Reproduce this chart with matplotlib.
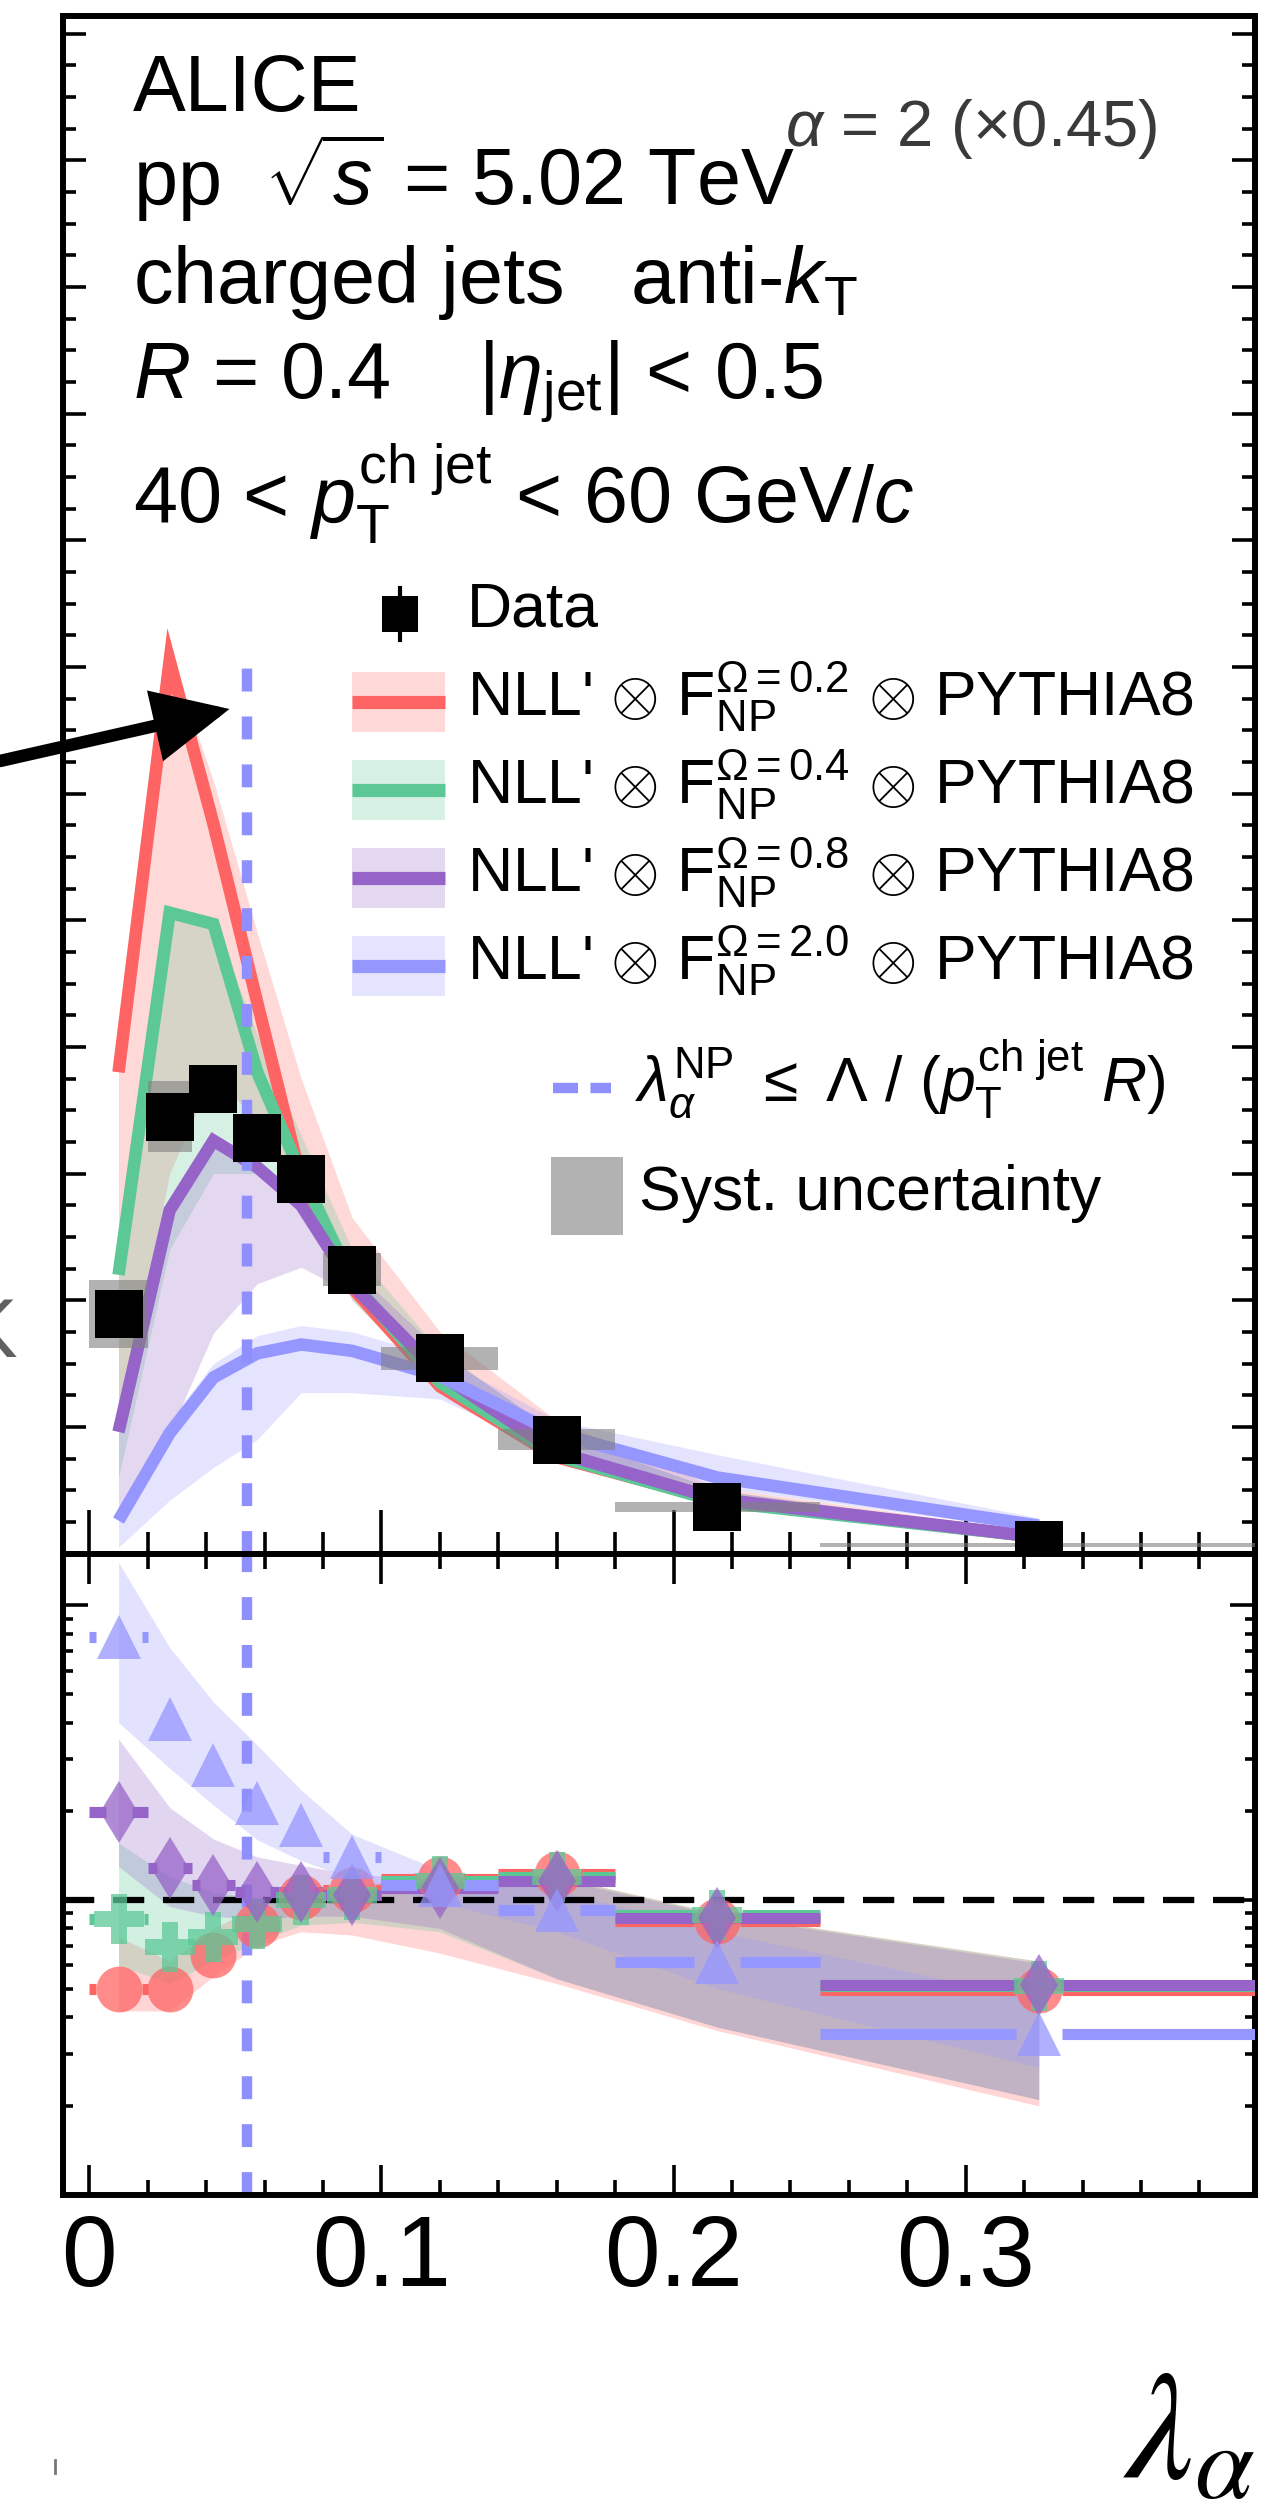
import numpy as np
import matplotlib
matplotlib.use("Agg")
import matplotlib.pyplot as plt
from matplotlib.patches import Rectangle, FancyArrowPatch
from matplotlib.lines import Line2D
from matplotlib.ticker import MultipleLocator, LogLocator, NullFormatter, FuncFormatter

plt.rcParams["font.family"] = ["Liberation Sans", "DejaVu Sans"]
plt.rcParams["mathtext.fontset"] = "custom"
plt.rcParams["mathtext.rm"] = "Liberation Sans"
plt.rcParams["mathtext.it"] = "Liberation Sans:italic"
plt.rcParams["mathtext.bf"] = "Liberation Sans:bold"

W, H = 1281, 2520

# lambda_alpha bins
bin_lo = np.array([0.0, 0.02, 0.035, 0.05, 0.065, 0.08, 0.10, 0.14, 0.18, 0.25])
bin_hi = np.array([0.02, 0.035, 0.05, 0.065, 0.08, 0.10, 0.14, 0.18, 0.25, 0.40])
lam = (bin_lo + bin_hi) / 2
lam_np = 0.054

# upper panel (in units of the major y tick)
data_y = np.array([1.89, 3.45, 3.67, 3.28, 2.96, 2.24, 1.54, 0.90, 0.37, 0.07])
data_sys = np.array([0.27, 0.28, 0.16, 0.12, 0.12, 0.13, 0.09, 0.08, 0.04, 0.015])

nll_red = np.array([3.80, 7.05, 5.76, 4.35, 2.95, 2.10, 1.32, 0.76, 0.42, 0.13])
nll_green = np.array([2.20, 5.06, 4.97, 3.80, 3.00, 2.15, 1.35, 0.77, 0.41, 0.13])
nll_purple = np.array([0.96, 2.71, 3.26, 3.05, 2.75, 2.12, 1.42, 0.80, 0.43, 0.13])
nll_blue = np.array([0.26, 0.95, 1.39, 1.58, 1.65, 1.60, 1.40, 0.95, 0.60, 0.22])

red_lo = [1.00, 3.00, 3.80, 3.40, 2.75, 2.00, 1.30, 0.76, 0.40, 0.12]
red_hi = [3.85, 7.10, 6.10, 4.90, 3.75, 2.65, 1.75, 1.05, 0.52, 0.17]
green_lo = [0.60, 2.40, 3.00, 3.00, 2.70, 2.00, 1.30, 0.76, 0.40, 0.12]
green_hi = [2.25, 5.10, 5.00, 4.10, 3.30, 2.40, 1.60, 0.95, 0.50, 0.16]
purple_lo = [0.30, 0.95, 1.74, 2.13, 2.26, 2.05, 1.30, 0.76, 0.40, 0.12]
purple_hi = [1.00, 2.75, 3.30, 3.10, 2.80, 2.25, 1.60, 0.95, 0.50, 0.16]
blue_lo = [0.05, 0.42, 0.68, 0.90, 1.27, 1.27, 1.22, 0.80, 0.52, 0.18]
blue_hi = [0.35, 1.05, 1.50, 1.72, 1.80, 1.75, 1.55, 1.05, 0.78, 0.28]

# lower panel: data / model
r_red = [0.50, 0.50, 0.65, 0.82, 1.02, 1.08, 1.18, 1.22, 0.85, 0.495]
r_green = [0.86, 0.69, 0.75, 0.83, 1.00, 1.04, 1.16, 1.20, 0.89, 0.51]
r_purple = [1.99, 1.28, 1.12, 1.06, 1.06, 1.04, 1.10, 1.16, 0.87, 0.515]
r_blue = [7.79, 4.12, 2.87, 2.13, 1.79, 1.40, 1.12, 0.925, 0.616, 0.352]

r_red_lo = [0.42, 0.42, 0.55, 0.70, 0.78, 0.76, 0.66, 0.52, 0.36, 0.20]
r_red_hi = [0.75, 0.62, 0.80, 0.95, 1.08, 1.12, 1.20, 1.20, 0.90, 0.62]
r_green_lo = [0.60, 0.52, 0.62, 0.72, 0.82, 0.84, 0.78, 0.54, 0.37, 0.21]
r_green_hi = [1.56, 1.20, 1.06, 1.02, 1.04, 1.08, 1.18, 1.20, 0.90, 0.62]
r_purple_lo = [1.30, 0.95, 0.88, 0.86, 0.88, 0.88, 0.80, 0.54, 0.37, 0.21]
r_purple_hi = [3.52, 2.06, 1.61, 1.40, 1.31, 1.22, 1.18, 1.18, 0.89, 0.61]
r_blue_lo = [4.00, 2.80, 2.10, 1.60, 1.36, 1.18, 0.98, 0.78, 0.50, 0.27]
r_blue_hi = [14.0, 7.20, 4.70, 3.35, 2.36, 1.67, 1.26, 1.08, 0.78, 0.46]

omegas = ["0.2", "0.4", "0.8", "2.0"]
c_red, c_green, c_purple, c_blue = "#ff6464", "#5cc896", "#9664c8", "#9696ff"
c_dash = "#8f8fff"

models = [
    # colour, line, band lo, band hi, ratio, ratio lo, ratio hi, marker, size(pt), half width(px)
    (c_red, nll_red, red_lo, red_hi, r_red, r_red_lo, r_red_hi, "o", 33, 23),
    (c_green, nll_green, green_lo, green_hi, r_green, r_green_lo, r_green_hi, "P", 36, 25),
    (c_purple, nll_purple, purple_lo, purple_hi, r_purple, r_purple_lo, r_purple_hi, "d", 32, 13),
    (c_blue, nll_blue, blue_lo, blue_hi, r_blue, r_blue_lo, r_blue_hi, "^", 32, 23),
]


def fx(px):
    return px / W


def fy(py):
    return 1 - py / H


fig = plt.figure(figsize=(W / 100, H / 100), dpi=100)

x0, x1 = 63, 1255
y_top, y_mid, y_bot = 16, 1553.5, 2194.5
ax = fig.add_axes([fx(x0), fy(y_mid), fx(x1) - fx(x0), fy(y_top) - fy(y_mid)])
axr = fig.add_axes([fx(x0), fy(y_bot), fx(x1) - fx(x0), fy(y_mid) - fy(y_bot)])

xmin, xmax = -0.009, 0.399
px_per_unit = (x1 - x0) / (xmax - xmin)

# ---- upper panel ----
for col, line, lo, hi, *_ in models:
    ax.fill_between(lam, lo, hi, color=col, alpha=0.25, lw=0, zorder=1)
for col, line, *_ in models:
    ax.plot(lam, line, color=col, lw=9, solid_joinstyle="miter",
            solid_capstyle="butt", zorder=2)
ax.vlines(lam_np, 0, nll_red.max(), colors=c_dash, lw=7.5,
          linestyles=[(0, (2.2, 2.4))], zorder=3)
ax.bar(bin_lo, 2 * data_sys, bottom=data_y - data_sys, width=bin_hi - bin_lo,
       align="edge", color="grey", alpha=0.6, lw=0, zorder=4)
ax.plot(lam, data_y, "s", ms=34, mew=0, color="k", zorder=5)

ax.set_xlim(xmin, xmax)
ax.set_ylim(0, 12.14)
ax.xaxis.set_major_locator(MultipleLocator(0.1))
ax.xaxis.set_minor_locator(MultipleLocator(0.02))
ax.yaxis.set_major_locator(MultipleLocator(1))
ax.yaxis.set_minor_locator(MultipleLocator(0.25))
ax.tick_params(which="both", direction="in", top=False, right=True,
               labelbottom=False, labelleft=False, width=2.6)
ax.tick_params(axis="x", which="major", length=32)
ax.tick_params(axis="x", which="minor", length=16)
ax.tick_params(axis="y", which="major", length=16.5)
ax.tick_params(axis="y", which="minor", length=9.5)

# ---- ratio panel ----
for col, line, lo, hi, r, rlo, rhi, *_ in models:
    axr.fill_between(lam, rlo, rhi, color=col, alpha=0.27, lw=0, zorder=1)
axr.axhline(1, color="k", lw=4.5, ls=(0, (5, 3)), zorder=2)
axr.axvline(lam_np, color=c_dash, lw=7.5, ls=(0, (2.2, 2.4)), zorder=2)
for col, line, lo, hi, r, rlo, rhi, mk, ms, hw in models:
    r = np.array(r)
    gap = hw / px_per_unit
    keep = (lam - gap) > bin_lo
    axr.hlines(r[keep], bin_lo[keep], lam[keep] - gap, colors=col, lw=8, zorder=3)
    axr.hlines(r[keep], lam[keep] + gap, bin_hi[keep], colors=col, lw=8, zorder=3)
    axr.plot(lam, r, mk, ms=ms, mew=0, color=col, alpha=0.75, zorder=4)

axr.set_yscale("log")
axr.set_xlim(xmin, xmax)
axr.set_ylim(0.1, 15)
axr.xaxis.set_major_locator(MultipleLocator(0.1))
axr.xaxis.set_minor_locator(MultipleLocator(0.02))
axr.yaxis.set_major_locator(LogLocator(base=10, numticks=10))
axr.yaxis.set_minor_locator(LogLocator(base=10, subs=np.arange(2, 10), numticks=20))
axr.yaxis.set_minor_formatter(NullFormatter())
axr.tick_params(which="both", direction="in", top=True, right=True,
                labelleft=False, width=2.6)
axr.tick_params(axis="x", which="major", length=21.5, labelsize=72, pad=13)
axr.tick_params(axis="x", which="minor", length=11)
axr.tick_params(axis="y", which="major", length=18)
axr.tick_params(axis="y", which="minor", length=7.5)
axr.xaxis.set_major_formatter(FuncFormatter(lambda v, p: "0" if abs(v) < 1e-9 else f"{v:g}"))

for a in (ax, axr):
    for s in a.spines.values():
        s.set_linewidth(4.3)

# ---- header text ----
hdr = ["ALICE",
       r"pp  $\sqrt{s}$ = 5.02 TeV",
       r"charged jets   anti-$k_{\mathrm{T}}$",
       r"$R$ = 0.4    |$\eta_{\mathrm{jet}}$| < 0.5",
       r"40 < $p_{\mathrm{T}}^{\mathrm{ch\ jet}}$ < 60 GeV/$c$"]
hdr_base = [111, 205, 303, 398.5, 523]
for s, yb in zip(hdr, hdr_base):
    fig.text(fx(133), fy(yb), s, fontsize=57, ha="left", va="baseline")
fig.text(fx(785), fy(146), r"$\alpha$ = 2 (×0.45)", fontsize=47,
         ha="left", va="baseline", color="#3a3a3a")

# ---- legend ----
fig.add_artist(Line2D([fx(399.5)] * 2, [fy(588), fy(640)], color="k", lw=3))
fig.add_artist(Line2D([fx(399.5)], [fy(614)], marker="s", ms=26, mew=0, color="k"))
fig.text(fx(467), fy(626.6), "Data", fontsize=45, ha="left", va="baseline")
for i, (col, *_ ) in enumerate(models):
    yc = 702 + 88 * i
    fig.add_artist(Rectangle((fx(352), fy(yc + 30)), fx(445) - fx(352), 60 / H,
                             transform=fig.transFigure, color=col, alpha=0.25, lw=0))
    fig.add_artist(Line2D([fx(352), fx(445)], [fy(yc)] * 2, color=col, lw=9.5,
                          solid_capstyle="butt"))
    fig.text(fx(467), fy(yc + 13),
             r"NLL' $\otimes$ $\mathrm{F}_{\mathrm{NP}}^{\Omega=%s}$ $\otimes$ PYTHIA8" % omegas[i],
             fontsize=45, ha="left", va="baseline")
fig.add_artist(Line2D([fx(553), fx(611)], [fy(1088)] * 2, color=c_dash, lw=7.5,
                      ls=(0, (2.4, 1.2))))
fig.text(fx(635), fy(1102),
         r"$\lambda_{\alpha}^{\mathrm{NP}}$ $\leq$ $\Lambda$ / ($p_{\mathrm{T}}^{\mathrm{ch\ jet}}$ $R$)",
         fontsize=45, ha="left", va="baseline")
fig.add_artist(Rectangle((fx(551), fy(1235)), fx(623) - fx(551), 78 / H,
                         transform=fig.transFigure, color="grey", alpha=0.6, lw=0))
fig.text(fx(639), fy(1210), "Syst. uncertainty", fontsize=45, ha="left", va="baseline")

# ---- annotations outside the frame ----
fig.add_artist(FancyArrowPatch((fx(0), fy(761)), (fx(229.5), fy(709)),
                               transform=fig.transFigure,
                               arrowstyle="-|>,head_length=40,head_width=19",
                               mutation_scale=1, lw=9, color="k",
                               shrinkA=0, shrinkB=0, joinstyle="miter"))
fig.text(fx(17), fy(1357), "K", fontsize=60, ha="right", va="baseline", color="#606060")
fig.add_artist(Line2D([fx(55)] * 2, [fy(2460), fy(2473)], color="#777777", lw=2))
fig.text(fx(1256), fy(2478), r"$\lambda_{\alpha}$", fontsize=110, ha="right",
         va="baseline", math_fontfamily="stix")

fig.savefig("out.png", dpi=100)
